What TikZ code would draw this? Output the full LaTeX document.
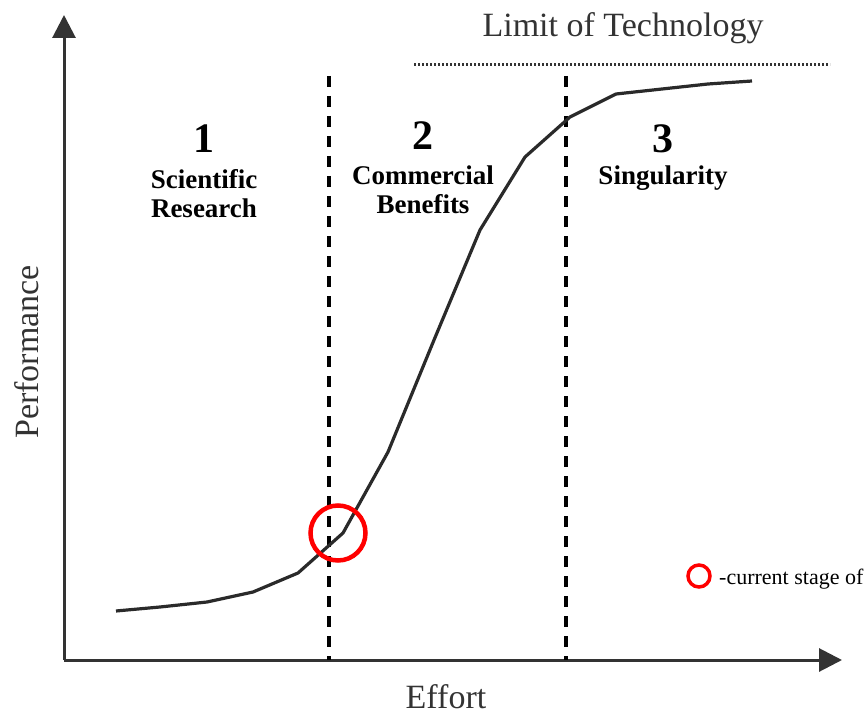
\documentclass[tikz,border=0pt]{standalone}
\usepackage{fontspec}
\setmainfont{Liberation Serif}
\usetikzlibrary{arrows.meta}
\definecolor{axisgray}{HTML}{333333}
\definecolor{curvegray}{HTML}{2A2A2A}
\definecolor{markred}{HTML}{FF0000}
\tikzset{
  axis/.style={draw=axisgray, line width=3pt, -{Triangle[length=23pt,width=23pt]}},
  divider/.style={draw=black, line width=3.6pt, dash pattern=on 11pt off 9pt},
  limitline/.style={draw=axisgray, line width=3pt, dash pattern=on 1.8pt off 2.2pt},
  curve/.style={draw=curvegray, line width=3.2pt, line join=round},
  stagenum/.style={font=\fontsize{42}{46}\selectfont\bfseries, inner sep=0pt},
  stagename/.style={font=\fontsize{27}{31}\selectfont\bfseries, inner sep=0pt, align=center},
  axislabel/.style={font=\fontsize{34}{38}\selectfont, text=axisgray, inner sep=0pt},
  marker/.style={draw=markred, line width=4.5pt},
}
\begin{document}
\begin{tikzpicture}[x=1pt,y=-1pt]
\useasboundingbox (0,0) rectangle (864,714);

% axes
\coordinate (origin) at (64,660);
\coordinate (ytip) at (64,15);
\coordinate (xtip) at (842,660);
\draw[axis] (origin) -- (ytip);
\draw[axis] (origin) -- (xtip);

% stage dividers
\coordinate (d1top) at (329,76);
\coordinate (d1bot) at (329,660);
\coordinate (d2top) at (566,76);
\coordinate (d2bot) at (566,660);
\draw[divider] (d1top) -- (d1bot);
\draw[divider] (d2top) -- (d2bot);

% limit of technology
\coordinate (lim1) at (414,65);
\coordinate (lim2) at (830,65);
\draw[limitline] (lim1) -- (lim2);
\node[axislabel, text=black!80] (limit) at (623,28) {Limit of Technology};

% S-curve
\draw[curve] plot coordinates {(116,611) (160,607) (207,602) (253,592) (298,573)
  (343,533) (388,452) (434,340) (480,230) (525,157) (570,117) (616,94)
  (662,89) (708,84) (752,81)};

% stage labels
\node[stagenum] (n1) at (204,139) {1};
\node[stagename] (s1) at (204,194) {Scientific\\[-2pt]Research};
\node[stagenum] (n2) at (423,136) {2};
\node[stagename] (s2) at (423,190) {Commercial\\[-2pt]Benefits};
\node[stagenum] (n3) at (663,139) {3};
\node[stagename, anchor=base] (s3) at (663,185) {Singularity};

% axis labels
\node[axislabel, rotate=90] (ylab) at (27,352) {Performance};
\node[axislabel, anchor=base] (xlab) at (446,708) {Effort};

% current stage marker and legend
\node[marker, circle, minimum size=55pt, inner sep=0pt] (now) at (338,533) {};
\node[marker, circle, minimum size=22pt, inner sep=0pt, line width=3.5pt] (key) at (699,576) {};
\node[font=\fontsize{22}{26}\selectfont, anchor=west, inner sep=0pt] (keytext) at (719,579) {-current stage of};
\end{tikzpicture}
\end{document}
